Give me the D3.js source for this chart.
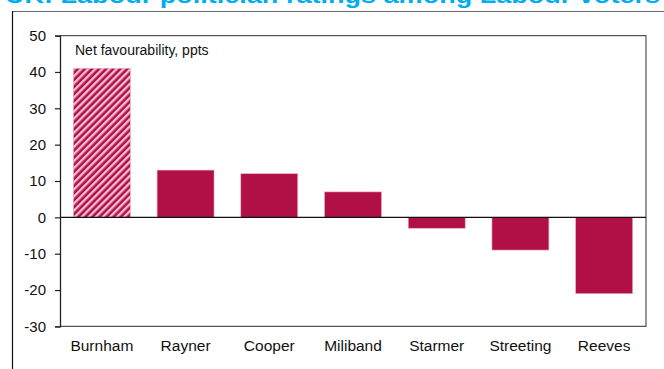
<!DOCTYPE html>
<html>
<head>
<meta charset="utf-8">
<script src="https://cdn.jsdelivr.net/npm/d3@7"></script>
<style>
  body { margin: 0; background: #fff; }
  svg { display: block; font-family: "Liberation Sans", Arial, sans-serif; }
</style>
</head>
<body>
<div id="chart"></div>
<script>
// data
var names = ['Burnham', 'Rayner', 'Cooper', 'Miliband', 'Starmer', 'Streeting', 'Reeves'];
var favour = [41, 13, 12, 7, -3, -9, -21];
var hatched = ['Burnham'];
var yTicks = [-30, -20, -10, 0, 10, 20, 30, 40, 50];

var width = 664, height = 369;
var m = {left: 60, top: 35.6, right: 646, bottom: 326.4};
var barCol = '#b01045';

var svg = d3.select('#chart').append('svg')
    .attr('width', width)
    .attr('height', height);

var defs = svg.append('defs');
var pat = defs.append('pattern')
    .attr('id', 'hatch')
    .attr('patternUnits', 'userSpaceOnUse')
    .attr('width', 5).attr('height', 5)
    .attr('patternTransform', 'rotate(45)');
pat.append('rect').attr('width', 5).attr('height', 5).attr('fill', barCol);
pat.append('rect').attr('width', 2.4).attr('height', 5).attr('fill', '#f7bcd3');

// title, mostly cut off at the top (as in the source)
svg.append('text')
    .attr('x', 5).attr('y', 2.5)
    .attr('font-size', 22).attr('font-weight', 'bold')
    .attr('fill', '#00aeef')
    .attr('textLength', 655).attr('lengthAdjust', 'spacingAndGlyphs')
    .text('UK: Labour politician ratings among Labour voters');

// outer frame (top + left)
svg.append('line').attr('x1', 12).attr('x2', 664).attr('y1', 11.5).attr('y2', 11.5)
    .attr('stroke', '#6b6b6b').attr('stroke-width', 1.2);
svg.append('line').attr('x1', 12.5).attr('x2', 12.5).attr('y1', 11).attr('y2', 369)
    .attr('stroke', '#111').attr('stroke-width', 1.2);

var x = d3.scaleBand().domain(names).range([m.left, m.right]).paddingInner(0.32).paddingOuter(0.16);
var y = d3.scaleLinear().domain([-30, 50]).range([m.bottom, m.top]);

// plot box: top, right, bottom
svg.append('path')
    .attr('d', 'M' + m.left + ',' + m.top + 'H' + m.right + 'V' + m.bottom + 'H' + m.left)
    .attr('fill', 'none').attr('stroke', '#555').attr('stroke-width', 1.2);

// bars
svg.append('g').selectAll('rect')
    .data(names)
    .enter().append('rect')
    .attr('x', function(d) { return x(d); })
    .attr('width', x.bandwidth())
    .attr('y', function(d, i) { return y(Math.max(0, favour[i])); })
    .attr('height', function(d, i) { return Math.abs(y(favour[i]) - y(0)); })
    .attr('fill', function(d) { return hatched.indexOf(d) >= 0 ? 'url(#hatch)' : barCol; })
    .attr('stroke', '#e9a7bf').attr('stroke-width', 0.6);

// zero line
svg.append('line')
    .attr('x1', m.left).attr('x2', m.right)
    .attr('y1', y(0)).attr('y2', y(0))
    .attr('stroke', '#111').attr('stroke-width', 1.2);

// y axis (plain hyphen for negatives)
var yAxis = svg.append('g')
    .attr('transform', 'translate(' + m.left + ',0)')
    .call(d3.axisLeft(y).tickValues(yTicks).tickSize(5).tickPadding(9)
        .tickFormat(function(d) { return String(d); }));
yAxis.select('.domain').attr('stroke', '#222').attr('stroke-width', 1.3);
yAxis.selectAll('.tick line').attr('stroke', '#222').attr('stroke-width', 1.2);
yAxis.selectAll('text').attr('font-size', 15).attr('fill', '#111')
    .attr('font-family', '"Liberation Sans", Arial, sans-serif');

// category labels
var xAxis = svg.append('g')
    .attr('transform', 'translate(0,' + m.bottom + ')')
    .call(d3.axisBottom(x).tickSize(0).tickPadding(14));
xAxis.select('.domain').remove();
xAxis.selectAll('text').attr('font-size', 15.5).attr('fill', '#111')
    .attr('font-family', '"Liberation Sans", Arial, sans-serif');

// unit label
svg.append('text')
    .attr('x', 75).attr('y', 55)
    .attr('font-size', 14).attr('fill', '#111')
    .text('Net favourability, ppts');
</script>
</body>
</html>
